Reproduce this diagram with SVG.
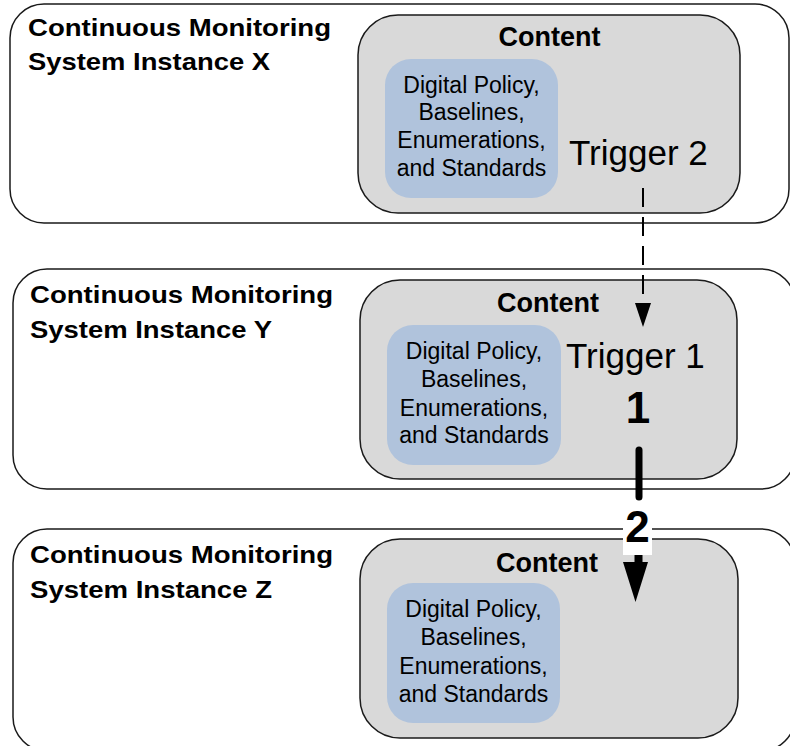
<svg xmlns="http://www.w3.org/2000/svg" width="790" height="746" viewBox="0 0 790 746">
<defs>
<style>
.outer{fill:#ffffff;stroke:#1a1a1a;stroke-width:1.5}
.content{fill:#d9d9d9;stroke:#1a1a1a;stroke-width:1.5}
.blue{fill:#b0c3dc;stroke:none}
.title{font-family:"Liberation Sans",Arial,sans-serif;font-weight:bold;font-size:24px;fill:#000}
.ctitle{font-family:"Liberation Sans",Arial,sans-serif;font-weight:bold;font-size:27px;fill:#000;text-anchor:middle}
.btext{font-family:"Liberation Sans",Arial,sans-serif;font-size:23px;fill:#000;text-anchor:middle}
.trig{font-family:"Liberation Sans",Arial,sans-serif;font-size:35px;fill:#000}
.num{font-family:"Liberation Sans",Arial,sans-serif;font-weight:bold;font-size:44px;fill:#000;text-anchor:middle}
</style>
<marker id="headSmall" viewBox="0 0 16 24" refX="8" refY="24" markerWidth="16" markerHeight="24" markerUnits="userSpaceOnUse" orient="auto-start-reverse">
<path d="M0,0 L16,0 L8,24 Z" fill="#000"/>
</marker>
</defs>
<rect width="790" height="746" fill="#ffffff"/>

<g id="instanceX">
<rect class="outer" x="10" y="4" width="779" height="219" rx="34" ry="34"/>
<text class="title" x="28" y="36" textLength="303" lengthAdjust="spacingAndGlyphs">Continuous Monitoring</text>
<text class="title" x="28" y="70" textLength="242" lengthAdjust="spacingAndGlyphs">System Instance X</text>
<g id="contentX">
<rect class="content" x="358" y="15" width="382" height="198" rx="40" ry="40"/>
<text class="ctitle" x="549.5" y="46">Content</text>
<g id="policyX">
<rect class="blue" x="385" y="59" width="173" height="139" rx="26" ry="26"/>
<text class="btext" x="471.5" y="93">Digital Policy,</text>
<text class="btext" x="471.5" y="120">Baselines,</text>
<text class="btext" x="471.5" y="148">Enumerations,</text>
<text class="btext" x="471.5" y="176">and Standards</text>
</g>
<text id="trigger2" class="trig" x="569" y="165">Trigger 2</text>
</g>
</g>

<g id="instanceY">
<rect class="outer" x="13" y="269" width="782" height="220" rx="34" ry="34"/>
<text class="title" x="30" y="303" textLength="303" lengthAdjust="spacingAndGlyphs">Continuous Monitoring</text>
<text class="title" x="30" y="338" textLength="242" lengthAdjust="spacingAndGlyphs">System Instance Y</text>
<g id="contentY">
<rect class="content" x="360" y="280" width="377" height="199" rx="40" ry="40"/>
<text class="ctitle" x="548" y="312">Content</text>
<g id="policyY">
<rect class="blue" x="387" y="325" width="174" height="140" rx="26" ry="26"/>
<text class="btext" x="474" y="359">Digital Policy,</text>
<text class="btext" x="474" y="387">Baselines,</text>
<text class="btext" x="474" y="416">Enumerations,</text>
<text class="btext" x="474" y="443">and Standards</text>
</g>
<text id="trigger1" class="trig" x="566" y="368">Trigger 1</text>
</g>
</g>

<g id="instanceZ">
<rect class="outer" x="13" y="529" width="782" height="222" rx="34" ry="34"/>
<text class="title" x="30" y="563" textLength="303" lengthAdjust="spacingAndGlyphs">Continuous Monitoring</text>
<text class="title" x="30" y="598" textLength="242" lengthAdjust="spacingAndGlyphs">System Instance Z</text>
<g id="contentZ">
<rect class="content" x="360" y="539" width="378" height="199" rx="40" ry="40"/>
<text class="ctitle" x="547" y="572">Content</text>
<g id="policyZ">
<rect class="blue" x="387" y="583" width="173" height="140" rx="26" ry="26"/>
<text class="btext" x="473.5" y="617">Digital Policy,</text>
<text class="btext" x="473.5" y="645">Baselines,</text>
<text class="btext" x="473.5" y="674">Enumerations,</text>
<text class="btext" x="473.5" y="702">and Standards</text>
</g>
</g>
</g>

<g id="connectors">
<line x1="643" y1="188" x2="643" y2="304" stroke="#000" stroke-width="2" stroke-dasharray="19 10"/>
<path d="M635,303 L651,303 L643,327 Z" fill="#000"/>
<text class="num" x="638" y="423">1</text>
<line x1="639" y1="450" x2="639" y2="564" stroke="#000" stroke-width="7" stroke-linecap="round" stroke-dasharray="47 58"/>
<line x1="638" y1="555" x2="638" y2="565" stroke="#000" stroke-width="7"/>
<path d="M623,562 L648,562 L635.5,602 Z" fill="#000"/>
<rect x="623" y="508" width="29" height="47" fill="#ffffff"/>
<text class="num" x="637.5" y="542">2</text>
</g>
</svg>
